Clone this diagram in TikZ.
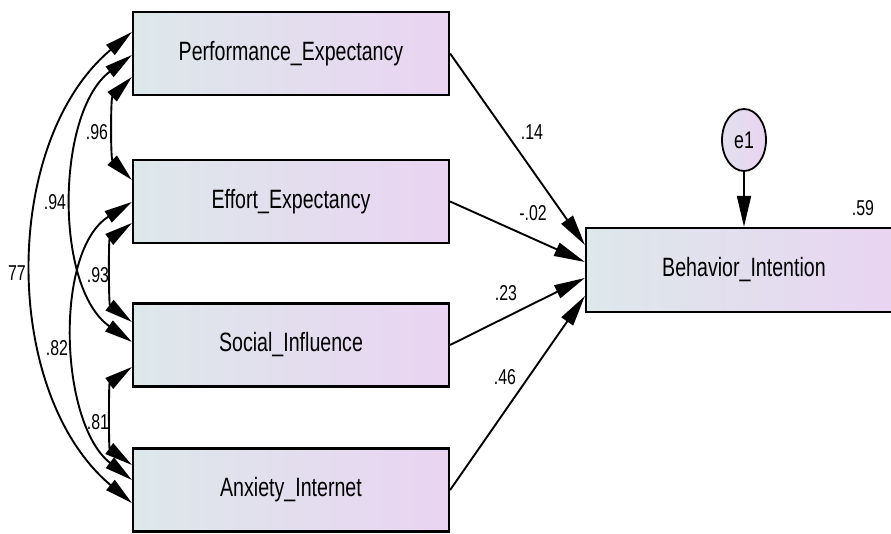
\documentclass[tikz,border=0pt]{standalone}
\usepackage{fontspec}
\newfontfamily\lblfont{Liberation Sans}[FakeStretch=0.74]
\usetikzlibrary{arrows.meta,shapes.geometric}
\definecolor{boxL}{RGB}{221,232,234}
\definecolor{boxR}{RGB}{233,212,242}
\begin{document}
\begin{tikzpicture}[x=1pt,y=1pt,
  box/.style={draw=black, line width=2.2pt, left color=boxL, right color=boxR,
    minimum width=316pt, minimum height=83pt, inner sep=0pt,
    font=\lblfont\fontsize{26.5}{30}\selectfont},
  errnode/.style={ellipse, draw=black, line width=1.8pt, left color=boxL!60!boxR, right color=boxR,
    minimum width=44pt, minimum height=62pt, inner sep=0pt,
    font=\lblfont\fontsize{24}{28}\selectfont},
  num/.style={font=\lblfont\fontsize{21.5}{25}\selectfont, inner sep=0pt},
  regarrow/.style={-{Triangle[length=31pt,width=14pt]}, line width=1.9pt},
  covarrow/.style={{Triangle[length=28pt,width=13pt]}-{Triangle[length=28pt,width=13pt]}, line width=1.9pt}
]
\useasboundingbox (0,0) rectangle (891,534);

\node[box] (perf) at (291,480.5) {Performance\_Expectancy};
\node[box] (effort) at (291,332.5) {Effort\_Expectancy};
\node[box] (social) at (291,189) {Social\_Influence};
\node[box] (anx) at (291,44) {Anxiety\_Internet};
\node[box, minimum height=84pt] (beh) at (744,264) {Behavior\_Intention};
\node[errnode] (e1) at (744,394) {e1};

% regression paths
\draw[regarrow] (perf.east) -- ([yshift=25]beh.west);
\draw[regarrow] (effort.east) -- ([yshift=8]beh.west);
\draw[regarrow] (social.east) -- ([yshift=-8]beh.west);
\draw[regarrow] (anx.east) -- ([yshift=-26]beh.west);
\draw[regarrow] (e1.south) -- (beh.north);

% covariances
\draw[covarrow] ([yshift=21.5]perf.west) to[out=220,in=140,looseness=0.93] ([yshift=-13]anx.west);
\draw[covarrow] ([yshift=-1.5]perf.west) to[out=217,in=145,looseness=0.85] ([yshift=3]social.west);
\draw[covarrow] ([yshift=-23.5]perf.west) to[out=225,in=135,looseness=0.75] ([yshift=21.5]effort.west);
\draw[covarrow] ([yshift=-0.5]effort.west) to[out=212,in=142,looseness=0.85] ([yshift=10]anx.west);
\draw[covarrow] ([yshift=-21.5]effort.west) to[out=216,in=143,looseness=0.75] ([yshift=23]social.west);
\draw[covarrow] ([yshift=-22]social.west) to[out=216,in=144,looseness=0.75] ([yshift=25]anx.west);

% labels
\node[num] (l96) at (97,402) {.96};
\node[num] (l94) at (55,332) {.94};
\node[num] (l77) at (17,261) {77};
\node[num] (l93) at (98,259) {.93};
\node[num] (l82) at (57,186) {.82};
\node[num] (l81) at (98,112) {.81};
\node[num] (l14) at (532,402) {.14};
\node[num] (l02) at (533,321) {-.02};
\node[num] (l23) at (506,241) {.23};
\node[num] (l46) at (505,157) {.46};
\node[num] (l59) at (863,326) {.59};
\end{tikzpicture}
\end{document}
